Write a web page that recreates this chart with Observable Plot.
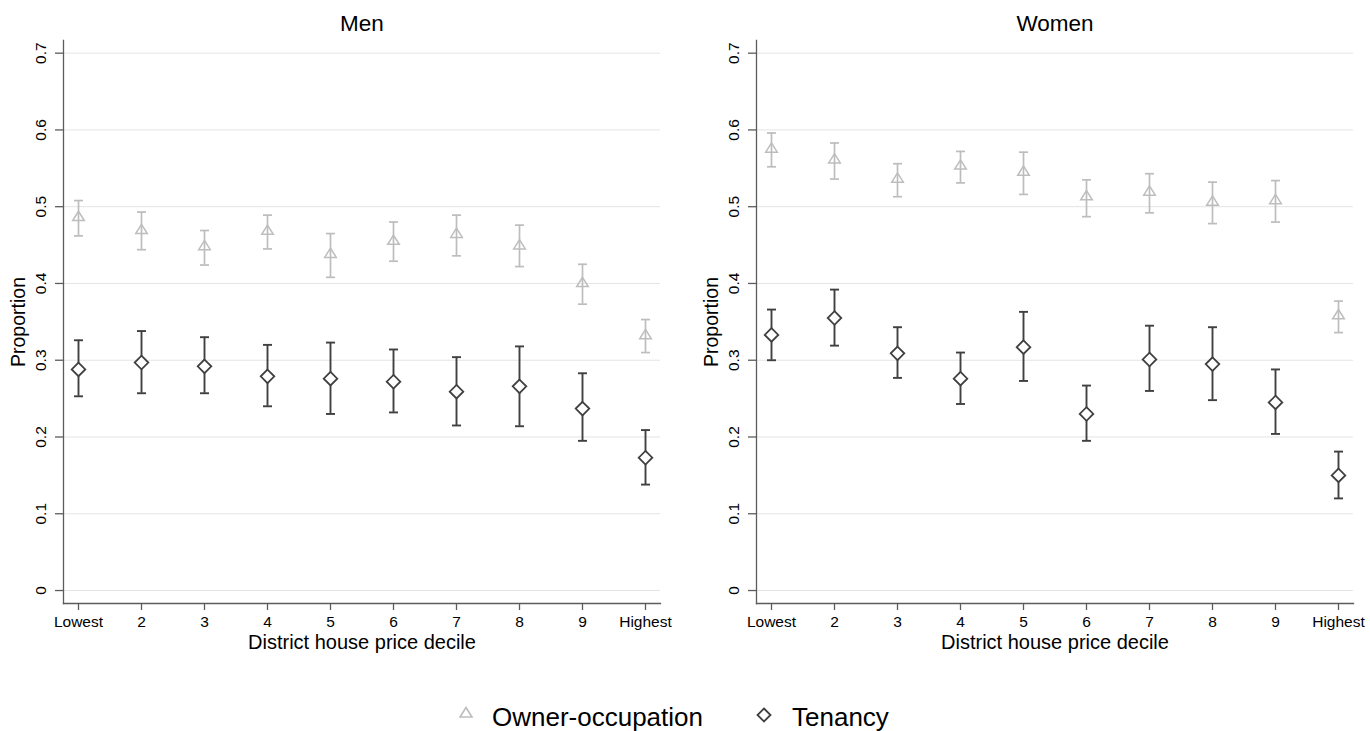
<!DOCTYPE html>
<html>
<head>
<meta charset="utf-8">
<script src="https://cdn.jsdelivr.net/npm/d3@7"></script>
<script src="https://cdn.jsdelivr.net/npm/@observablehq/plot@0.6"></script>
<style>
  body { margin: 0; background: #fff; font-family: "Liberation Sans", Arial, sans-serif; }
  #wrap { position: relative; width: 1370px; height: 731px; overflow: hidden; background: #fff; }
  .panel { position: absolute; top: 0; }
  .leg { position: absolute; font-size: 26px; line-height: 26px; color: #000; white-space: nowrap; }
  .icon { position: absolute; }
</style>
</head>
<body>
<div id="wrap">
  <div id="men" class="panel" style="left:0px"></div>
  <div id="women" class="panel" style="left:685px"></div>
  <div id="legend"></div>
</div>
<script>
// ---------- data ----------
const deciles = ["Lowest", "2", "3", "4", "5", "6", "7", "8", "9", "Highest"];
const seriesNames = ["Owner-occupation", "Tenancy"];
const panelTitles = ["Men", "Women"];
const xTitle = "District house price decile";
const yTitle = "Proportion";
const yTicks = [0, 0.1, 0.2, 0.3, 0.4, 0.5, 0.6, 0.7];
const yTickLabels = ["0", "0.1", "0.2", "0.3", "0.4", "0.5", "0.6", "0.7"];

const menOwnerEst = [0.486, 0.469, 0.448, 0.468, 0.438, 0.455, 0.464, 0.449, 0.400, 0.332];
const menOwnerLo  = [0.462, 0.444, 0.424, 0.445, 0.408, 0.429, 0.436, 0.422, 0.373, 0.310];
const menOwnerHi  = [0.508, 0.493, 0.469, 0.489, 0.465, 0.480, 0.489, 0.476, 0.425, 0.353];

const menTenEst = [0.288, 0.297, 0.292, 0.279, 0.276, 0.272, 0.259, 0.266, 0.237, 0.173];
const menTenLo  = [0.253, 0.257, 0.257, 0.240, 0.230, 0.232, 0.215, 0.214, 0.195, 0.138];
const menTenHi  = [0.326, 0.338, 0.330, 0.320, 0.323, 0.314, 0.304, 0.318, 0.283, 0.209];

const womenOwnerEst = [0.575, 0.561, 0.536, 0.553, 0.545, 0.513, 0.519, 0.506, 0.508, 0.358];
const womenOwnerLo  = [0.552, 0.536, 0.513, 0.531, 0.516, 0.487, 0.492, 0.478, 0.480, 0.336];
const womenOwnerHi  = [0.596, 0.583, 0.556, 0.572, 0.571, 0.535, 0.543, 0.532, 0.534, 0.377];

const womenTenEst = [0.333, 0.355, 0.309, 0.276, 0.317, 0.230, 0.301, 0.295, 0.245, 0.150];
const womenTenLo  = [0.300, 0.319, 0.277, 0.243, 0.273, 0.195, 0.260, 0.248, 0.204, 0.120];
const womenTenHi  = [0.366, 0.392, 0.343, 0.310, 0.363, 0.267, 0.345, 0.343, 0.288, 0.181];

// ---------- styling ----------
const ownerColor = "#bdbdbd";
const tenColor = "#404040";
const axisColor = "#5c5c5c";
const gridColor = "#e4e4e4";
const font = "'Liberation Sans', Arial, sans-serif";

// custom symbols
const capSymbol = { draw(ctx, size) { const r = Math.sqrt(size / Math.PI); ctx.moveTo(-r, 0); ctx.lineTo(r, 0); } };
const triSymbol = { draw(ctx, size) {
  const r = Math.sqrt(size / Math.PI); const h = r * 1.6;
  ctx.moveTo(0, -h * 2 / 3); ctx.lineTo(r, h / 3); ctx.lineTo(-r, h / 3); ctx.closePath(); } };
const diaSymbol = { draw(ctx, size) {
  const r = Math.sqrt(size / Math.PI);
  ctx.moveTo(0, -r); ctx.lineTo(r, 0); ctx.lineTo(0, r); ctx.lineTo(-r, 0); ctx.closePath(); } };

function buildRows(owner, ten) {
  const rows = [];
  deciles.forEach((d, i) => {
    rows.push({decile: d, series: seriesNames[0], est: owner[0][i], lo: owner[1][i], hi: owner[2][i]});
  });
  deciles.forEach((d, i) => {
    rows.push({decile: d, series: seriesNames[1], est: ten[0][i], lo: ten[1][i], hi: ten[2][i]});
  });
  return rows;
}

function panel(title, rows, marginLeft, marginRight) {
  const own = rows.filter(r => r.series === seriesNames[0]);
  const ten = rows.filter(r => r.series === seriesNames[1]);
  const bars = (data, color, sw) => [
    Plot.ruleX(data, {x: "decile", y1: "lo", y2: "hi", stroke: color, strokeWidth: sw}),
    Plot.dot(data, {x: "decile", y: "lo", symbol: capSymbol, r: 4.5, stroke: color, strokeWidth: sw}),
    Plot.dot(data, {x: "decile", y: "hi", symbol: capSymbol, r: 4.5, stroke: color, strokeWidth: sw})
  ];
  return Plot.plot({
    width: 685, height: 660,
    marginTop: 40, marginBottom: 57, marginLeft, marginRight,
    x: {type: "point", domain: deciles, padding: 0.2},
    y: {domain: [-0.0169, 0.7165]},
    style: {fontFamily: font, fontSize: "15px", color: "#000", background: "transparent", overflow: "visible"},
    marks: [
      Plot.gridY(yTicks, {stroke: gridColor, strokeOpacity: 1, strokeWidth: 1}),
      Plot.frame({anchor: "left", stroke: axisColor, strokeWidth: 1.3}),
      Plot.frame({anchor: "bottom", stroke: axisColor, strokeWidth: 1.3}),
      Plot.axisY({ticks: yTicks, tickSize: 8, tickFormat: () => "", label: null, stroke: axisColor, strokeWidth: 1.3}),
      Plot.text(yTicks, {y: d => d, text: (d, i) => yTickLabels[i], frameAnchor: "left", textAnchor: "middle",
        lineAnchor: "middle", rotate: -90, dx: -22, fontSize: 15.5, fill: "#000"}),
      Plot.axisX({tickSize: 7, tickPadding: 5, fontSize: 15.5, label: null, stroke: axisColor, strokeWidth: 1.3, fill: "#000"}),
      Plot.text([xTitle], {frameAnchor: "bottom", textAnchor: "middle", lineAnchor: "middle", dy: 39, fontSize: 20, fill: "#000"}),
      Plot.text([yTitle], {frameAnchor: "left", textAnchor: "middle", lineAnchor: "middle", rotate: -90, dx: -44.5, fontSize: 19.5, fill: "#000"}),
      Plot.text([title], {frameAnchor: "top", textAnchor: "middle", lineAnchor: "middle", dy: -17, fontSize: 22.5, fill: "#000"}),
      ...bars(own, ownerColor, 1.7),
      Plot.dot(own, {x: "decile", y: "est", symbol: triSymbol, r: 5.8, stroke: ownerColor, strokeWidth: 1.5, fill: "none"}),
      ...bars(ten, tenColor, 1.9),
      Plot.dot(ten, {x: "decile", y: "est", symbol: diaSymbol, r: 6.8, stroke: tenColor, strokeWidth: 1.8, fill: "white"})
    ]
  });
}

const menRows = buildRows([menOwnerEst, menOwnerLo, menOwnerHi], [menTenEst, menTenLo, menTenHi]);
const womenRows = buildRows([womenOwnerEst, womenOwnerLo, womenOwnerHi], [womenTenEst, womenTenLo, womenTenHi]);

document.getElementById("men").appendChild(panel(panelTitles[0], menRows, 63, 25));
document.getElementById("women").appendChild(panel(panelTitles[1], womenRows, 71, 17));

// ---------- legend ----------
const legend = document.getElementById("legend");
legend.innerHTML =
  `<svg class="icon" style="left:458px;top:705px" width="16" height="16" viewBox="-8 -8 16 16">
     <path d="M0,-5.5L6,4L-6,4Z" fill="none" stroke="${ownerColor}" stroke-width="1.6"/></svg>
   <div class="leg" style="left:492px;top:704px">${seriesNames[0]}</div>
   <svg class="icon" style="left:755px;top:706px" width="18" height="18" viewBox="-9 -9 18 18">
     <path d="M0,-6.5L6.5,0L0,6.5L-6.5,0Z" fill="none" stroke="${tenColor}" stroke-width="1.8"/></svg>
   <div class="leg" style="left:792px;top:704px">${seriesNames[1]}</div>`;
</script>
</body>
</html>
